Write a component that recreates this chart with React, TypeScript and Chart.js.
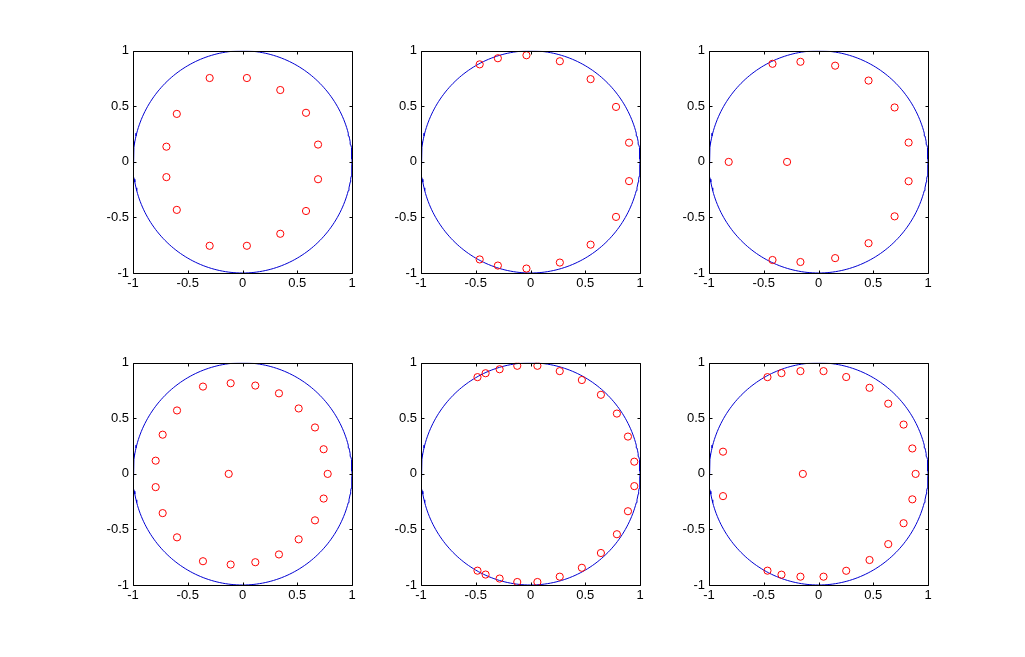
import React, { useEffect, useRef } from "react";
import { Chart, registerables } from "chart.js";

Chart.register(...registerables);

// ---------- data ----------
const TICK_VALUES = [-1, -0.5, 0, 0.5, 1];
const TICK_LABELS = ["-1", "-0.5", "0", "0.5", "1"];

const p1x = [-0.3, 0.04, 0.345, 0.58, 0.69, 0.69, 0.58, 0.345, 0.04, -0.3, -0.6, -0.695, -0.695, -0.6];
const p1y = [0.755, 0.755, 0.647, 0.442, 0.156, -0.156, -0.442, -0.647, -0.755, -0.755, -0.432, -0.137, 0.137, 0.432];

const p2x = [-0.464, -0.298, -0.037, 0.268, 0.549, 0.781, 0.9, 0.9, 0.781, 0.549, 0.268, -0.037, -0.298, -0.464];
const p2y = [0.878, 0.933, 0.96, 0.906, 0.745, 0.495, 0.173, -0.173, -0.495, -0.745, -0.906, -0.96, -0.933, -0.878];

const p3x = [-0.42, -0.165, 0.152, 0.457, 0.695, 0.823, 0.823, 0.695, 0.457, 0.152, -0.165, -0.42, -0.82, -0.287];
const p3y = [0.883, 0.901, 0.866, 0.732, 0.49, 0.174, -0.174, -0.49, -0.732, -0.866, -0.901, -0.883, 0, 0];

const p4x = [-0.361, -0.108, 0.117, 0.333, 0.513, 0.662, 0.741, 0.778, 0.741, 0.662, 0.513, 0.333, 0.117, -0.108, -0.361, -0.598, -0.729, -0.793, -0.793, -0.729, -0.598, -0.126];
const p4y = [0.786, 0.816, 0.795, 0.725, 0.589, 0.418, 0.222, 0, -0.222, -0.418, -0.589, -0.725, -0.795, -0.816, -0.786, -0.571, -0.353, -0.119, 0.119, 0.353, 0.571, 0];

const p5x = [-0.484, -0.41, -0.282, -0.121, 0.063, 0.267, 0.469, 0.643, 0.789, 0.89, 0.948, 0.948, 0.89, 0.789, 0.643, 0.469, 0.267, 0.063, -0.121, -0.282, -0.41, -0.484];
const p5y = [0.871, 0.906, 0.942, 0.973, 0.973, 0.925, 0.845, 0.712, 0.543, 0.336, 0.11, -0.11, -0.336, -0.543, -0.712, -0.845, -0.925, -0.973, -0.973, -0.942, -0.906, -0.871];

const p6x = [-0.466, -0.338, -0.165, 0.046, 0.253, 0.466, 0.637, 0.777, 0.857, 0.887, 0.857, 0.777, 0.637, 0.466, 0.253, 0.046, -0.165, -0.338, -0.466, -0.872, -0.872, -0.143];
const p6y = [0.871, 0.907, 0.925, 0.925, 0.872, 0.775, 0.632, 0.444, 0.229, 0, -0.229, -0.444, -0.632, -0.775, -0.872, -0.925, -0.925, -0.907, -0.871, 0.2, -0.2, 0];

const SERIES_X = [p1x, p2x, p3x, p4x, p5x, p6x];
const SERIES_Y = [p1y, p2y, p3y, p4y, p5y, p6y];

// unit circle (reference shape)
const CIRCLE_STEPS = 240;
const circlePts = Array.from({ length: CIRCLE_STEPS + 1 }, (_, i) => {
  const t = (i / CIRCLE_STEPS) * Math.PI * 2;
  return { x: Math.cos(t), y: Math.sin(t) };
});

// ---------- layout ----------
const COL_LEFT = [133, 421, 709];
const ROW_TOP = [49, 361];
const PLOT_W = 219;
const PLOT_H = 224;
const PAD_L = 50;
const PAD_T = 10;
const PAD_R = 20;
const PAD_B = 30;
const TICK_LEN = 3;
const FONT = "'Liberation Sans', Arial, sans-serif";

const matlabAxes = {
  id: "matlabAxes",
  afterDraw(chart: any) {
    const { ctx, chartArea } = chart;
    const xs = chart.scales.x;
    const ys = chart.scales.y;
    const l = Math.round(chartArea.left) + 0.5;
    const r = Math.round(chartArea.right) + 0.5;
    const t = Math.round(chartArea.top) + 0.5;
    const b = Math.round(chartArea.bottom) + 0.5;
    ctx.save();
    ctx.strokeStyle = "#000";
    ctx.lineWidth = 1;
    ctx.beginPath();
    ctx.rect(l, t, r - l, b - t);
    for (const v of TICK_VALUES) {
      const px = Math.round(xs.getPixelForValue(v)) + 0.5;
      ctx.moveTo(px, b);
      ctx.lineTo(px, b - TICK_LEN);
      ctx.moveTo(px, t);
      ctx.lineTo(px, t + TICK_LEN);
      const py = Math.round(ys.getPixelForValue(v)) + 0.5;
      ctx.moveTo(l, py);
      ctx.lineTo(l + TICK_LEN, py);
      ctx.moveTo(r, py);
      ctx.lineTo(r - TICK_LEN, py);
    }
    ctx.stroke();
    ctx.restore();
  },
};

function axisOpts(isX: boolean) {
  return {
    type: "linear",
    position: isX ? "bottom" : "left",
    min: -1,
    max: 1,
    grid: { display: false, drawTicks: false },
    border: { display: false },
    afterBuildTicks: (scale: any) => {
      scale.ticks = TICK_VALUES.map((v) => ({ value: v }));
    },
    afterFit: (scale: any) => {
      if (isX) scale.height = PAD_B;
      else scale.width = PAD_L;
    },
    ticks: {
      autoSkip: false,
      maxRotation: 0,
      minRotation: 0,
      padding: isX ? 3 : 4,
      color: "#000",
      font: { family: FONT, size: 13 },
      callback: (_v: any, i: number) => TICK_LABELS[i],
    },
  };
}

function SubPlot({ idx }: { idx: number }) {
  const ref = useRef<HTMLCanvasElement | null>(null);
  const col = idx % 3;
  const row = Math.floor(idx / 3);
  const left = COL_LEFT[col] - PAD_L;
  const top = ROW_TOP[row] - PAD_T;
  const w = PLOT_W + PAD_L + PAD_R;
  const h = PLOT_H + PAD_T + PAD_B;

  useEffect(() => {
    if (!ref.current) return;
    const pts = SERIES_X[idx].map((x, i) => ({ x, y: SERIES_Y[idx][i] }));
    const chart = new Chart(ref.current, {
      type: "scatter",
      data: {
        datasets: [
          {
            label: "circle",
            data: circlePts,
            showLine: true,
            borderColor: "rgb(0,0,210)",
            borderWidth: 1,
            pointRadius: 0,
            tension: 0,
            order: 2,
          } as any,
          {
            label: "points",
            data: pts,
            pointStyle: "circle",
            pointRadius: 3.6,
            borderColor: "#ff0000",
            backgroundColor: "rgba(0,0,0,0)",
            borderWidth: 1,
            order: 1,
          } as any,
        ],
      },
      options: {
        responsive: false,
        animation: false,
        devicePixelRatio: 1,
        layout: { padding: { left: 0, top: PAD_T, right: PAD_R, bottom: 0 } },
        plugins: { legend: { display: false }, tooltip: { enabled: false } },
        scales: { x: axisOpts(true) as any, y: axisOpts(false) as any },
      },
      plugins: [matlabAxes],
    });
    return () => chart.destroy();
  }, [idx]);

  return (
    <canvas
      ref={ref}
      width={w}
      height={h}
      style={{ position: "absolute", left, top, width: w, height: h }}
    />
  );
}

export default function App() {
  return (
    <div
      style={{
        position: "absolute",
        left: 0,
        top: 0,
        width: 1025,
        height: 657,
        background: "#fff",
        overflow: "hidden",
      }}
    >
      {[0, 1, 2, 3, 4, 5].map((i) => (
        <SubPlot key={i} idx={i} />
      ))}
    </div>
  );
}
